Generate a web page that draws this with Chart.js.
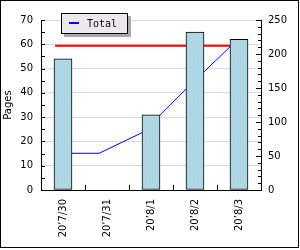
<!DOCTYPE html>
<html>
<head>
<meta charset="utf-8">
<script src="https://cdn.jsdelivr.net/npm/chart.js@4/dist/chart.umd.min.js"></script>
<style>
  html, body { margin: 0; padding: 0; background: #fff; }
  #wrap { width: 300px; height: 250px; position: relative; }
</style>
</head>
<body>
<div id="wrap"><canvas id="chart"></canvas></div>
<script>
// Chart data
const days = ['20’7/30', '20’7/31', '20’8/1', '20’8/2', '20’8/3'];
const pages = [54, 0, 31, 65, 62];
const total = [54, 54, 85, 150, 212];
const goal = [212, 212, 212, 212, 212];
const pageTicks = [0, 10, 20, 30, 40, 50, 60, 70];
const totalTicks = [0, 50, 100, 150, 200, 250];

// lines sit on the left edge of the bars, not on the centre
const lineShift = 0.18;

Chart.defaults.font.family = 'DejaVu Sans';
Chart.defaults.font.size = 10;
Chart.defaults.color = '#000';

// dotted fill for the bars
function barPattern() {
    const c = document.createElement('canvas');
    c.width = 4;
    c.height = 5;
    const g = c.getContext('2d');
    g.fillStyle = '#add8e6';
    g.fillRect(0, 0, 4, 5);
    g.fillStyle = '#c6c0c8';
    g.fillRect(1, 2, 1, 1);
    return g.createPattern(c, 'repeat');
}

function toPoints(values) {
    return values.map((v, i) => ({ x: i, y: v }));
}

// tick marks drawn inside the plot, frame and legend box
const decorations = {
    id: 'decorations',
    afterDatasetsDraw(chart) {
        const ctx = chart.ctx;
        const area = chart.chartArea;
        const y = chart.scales.y;
        const y2 = chart.scales.y2;
        const x = chart.scales.x;
        ctx.save();
        ctx.strokeStyle = '#000';
        ctx.lineWidth = 1;
        ctx.beginPath();
        for (let v = 0; v <= 70; v += 5) {
            const py = Math.round(y.getPixelForValue(v)) + 0.5;
            ctx.moveTo(area.left, py);
            ctx.lineTo(area.left + 4, py);
        }
        for (let v = 0; v <= 250; v += 10) {
            const py = Math.round(y2.getPixelForValue(v)) + 0.5;
            const len = v % 50 === 0 ? 5 : 3;
            ctx.moveTo(area.right, py);
            ctx.lineTo(area.right - len, py);
        }
        for (let i = 0; i < days.length - 1; i++) {
            const px = Math.round((x.getPixelForValue(i) + x.getPixelForValue(i + 1)) / 2) + 0.5;
            ctx.moveTo(px, area.bottom);
            ctx.lineTo(px, area.bottom - 5);
        }
        ctx.stroke();
        ctx.restore();
    },
    afterDraw(chart) {
        const ctx = chart.ctx;
        const ds = chart.data.datasets.find(d => d.label === 'Total');
        ctx.save();
        // outer frame
        ctx.strokeStyle = '#000';
        ctx.strokeRect(0.5, 0.5, 298, 247);
        // legend
        ctx.fillStyle = '#a8a8a8';
        ctx.fillRect(64, 16, 67, 21);
        ctx.fillStyle = '#ebe9ee';
        ctx.fillRect(61, 13, 67, 21);
        ctx.strokeRect(61.5, 13.5, 66, 20);
        ctx.fillStyle = ds.borderColor;
        ctx.fillRect(69, 22, 10, 2);
        ctx.fillStyle = '#000';
        ctx.font = '10px "DejaVu Sans Mono"';
        ctx.textBaseline = 'alphabetic';
        ctx.fillText(ds.label, 87, 27);
        ctx.restore();
    }
};

new Chart(document.getElementById('chart'), {
    data: {
        labels: days,
        datasets: [
            {
                type: 'bar',
                label: 'Pages',
                data: pages,
                xAxisID: 'x',
                yAxisID: 'y',
                backgroundColor: barPattern(),
                borderColor: '#000',
                borderWidth: 1,
                borderSkipped: false,
                grouped: false,
                barThickness: 18,
                order: 1
            },
            {
                type: 'line',
                label: 'Total',
                data: toPoints(total),
                xAxisID: 'xl',
                yAxisID: 'y2',
                borderColor: '#0000ff',
                borderWidth: 1,
                pointRadius: 0,
                tension: 0,
                order: 2
            },
            {
                type: 'line',
                label: 'Goal',
                data: toPoints(goal),
                xAxisID: 'xl',
                yAxisID: 'y2',
                borderColor: '#ff0000',
                borderWidth: 2,
                pointRadius: 0,
                tension: 0,
                order: 3
            }
        ]
    },
    options: {
        responsive: true,
        maintainAspectRatio: false,
        animation: false,
        layout: { padding: { top: 20, left: 0, right: 0, bottom: 0 } },
        plugins: {
            legend: { display: false },
            tooltip: { enabled: false }
        },
        scales: {
            x: {
                type: 'category',
                offset: true,
                grid: { display: true, drawOnChartArea: false, drawTicks: false },
                border: { color: '#000', width: 1 },
                ticks: { minRotation: 90, maxRotation: 90, padding: 9, autoSkip: false },
                afterFit(s) { s.height = 60; }
            },
            xl: {
                type: 'linear',
                display: false,
                min: -0.5 + lineShift,
                max: days.length - 0.5 + lineShift
            },
            y: {
                position: 'left',
                min: 0,
                max: 70,
                afterBuildTicks(s) { s.ticks = pageTicks.map(v => ({ value: v })); },
                grid: { color: '#dcdcdc', drawTicks: false },
                border: { color: '#000', width: 1 },
                ticks: { padding: 8 },
                title: { display: true, text: 'Pages', padding: { top: 2, bottom: 0 } },
                afterFit(s) { s.width = 41; }
            },
            y2: {
                position: 'right',
                min: 0,
                max: 250,
                afterBuildTicks(s) { s.ticks = totalTicks.map(v => ({ value: v })); },
                grid: { drawOnChartArea: false, drawTicks: false },
                border: { color: '#000', width: 1 },
                ticks: { padding: 7 },
                afterFit(s) { s.width = 39; }
            }
        }
    },
    plugins: [decorations]
});
</script>
</body>
</html>
